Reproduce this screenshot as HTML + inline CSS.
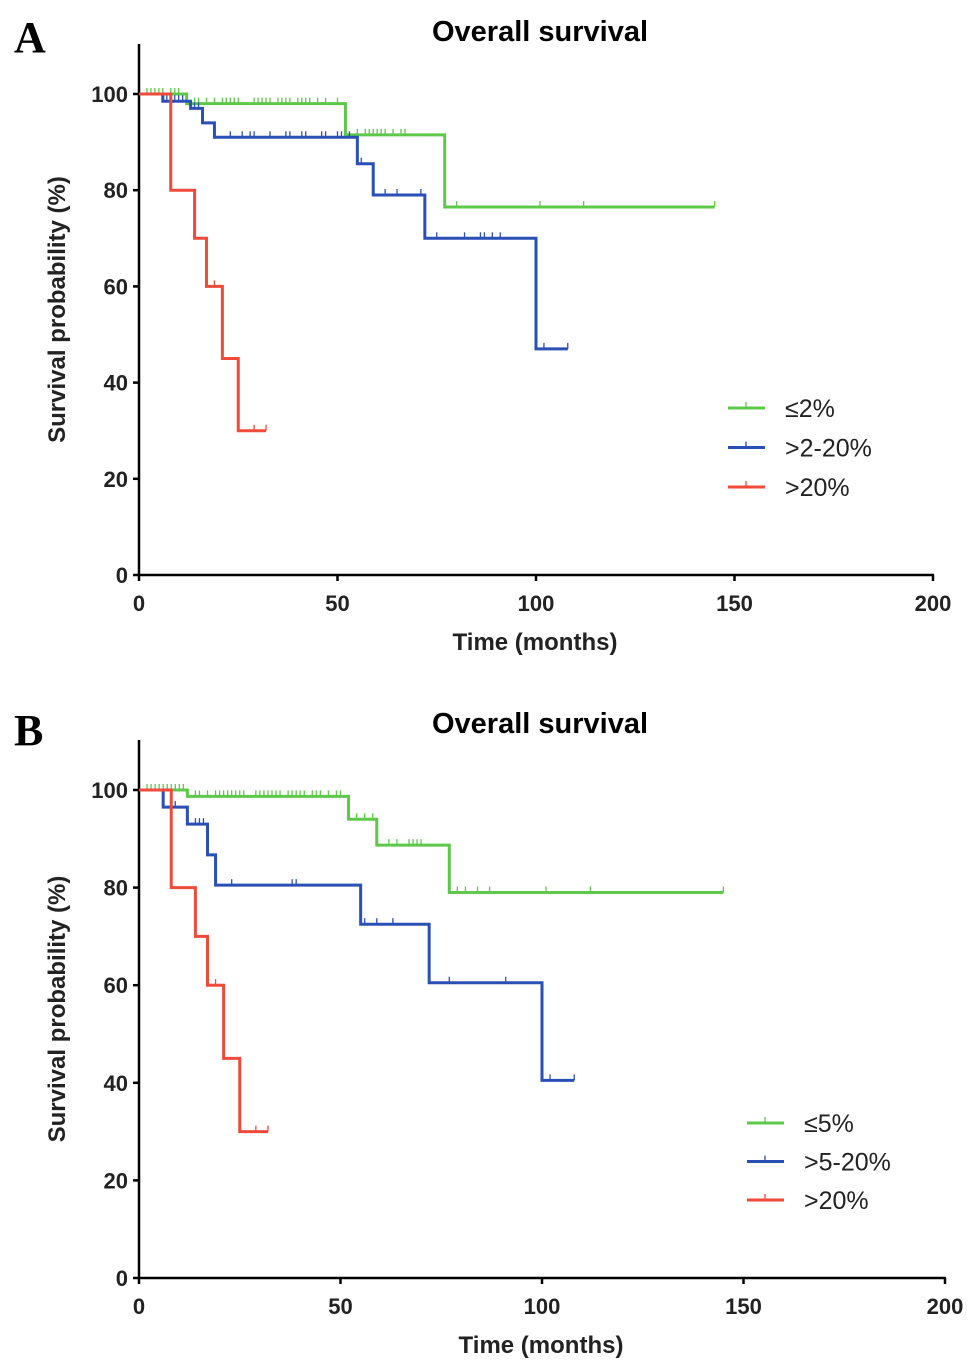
<!DOCTYPE html>
<html><head><meta charset="utf-8"><style>
body{margin:0;background:#fff;}
svg{display:block;font-family:"Liberation Sans",Arial,sans-serif;}
</style></head><body>
<svg id="chart" width="971" height="1371" viewBox="0 0 971 1371"></svg>
<script>
const ticksX=[0,50,100,150,200];
const ticksY=[0,20,40,60,80,100];
// Panel A
const aGreenT=[0,12,52,77,145];
const aGreenS=[100,98,91.5,76.5,76.5];
const aGreenC=[2,3,4,5,6,8,9,10,14,15,17,19,21,22,23,24,25,29,30,31,32,33,35,36,37,38,40,41,42,43,45,47,50,55,57,58,59,60,61,62,64,66,67,80,101,112,145];
const aBlueT=[0,6,13,16,19,55,59,72,100,108];
const aBlueS=[100,98.5,97,94,91,85.5,79,70,47,47];
const aBlueC=[7,8,9,10,11,14,15,16,23,26,28,29,33,37,38,41,42,46,47,50,51,53,56,62,65,71,75,82,86,87,89,91,102,108];
const aRedT=[0,8,14,17,21,25,32];
const aRedS=[100,80,70,60,45,30,30];
const aRedC=[19,29,32];
// Panel B
const bGreenT=[0,12,52,59,77,145];
const bGreenS=[100,98.7,94,88.7,79,79];
const bGreenC=[2,3,4,5,6,7,8,9,10,11,14,15,17,19,20,21,22,23,24,25,26,29,30,31,32,33,34,35,37,38,39,40,41,43,44,45,47,49,50,54,56,58,62,64,67,68,69,70,79,81,84,87,101,112,145];
const bBlueT=[0,6,12,17,19,55,72,100,108];
const bBlueS=[100,96.5,93,86.7,80.5,72.5,60.5,40.5,40.5];
const bBlueC=[8,9,14,15,16,23,38,39,56,59,63,77,91,102,108];
const bRedT=[0,8,14,17,21,25,32];
const bRedS=[100,80,70,60,45,30,30];
const bRedC=[19,29,32];

const NS="http://www.w3.org/2000/svg";
const svg=document.getElementById('chart');
function mk(tag,attrs,parent){const e=document.createElementNS(NS,tag);for(const k in attrs)e.setAttribute(k,attrs[k]);(parent||svg).appendChild(e);return e;}

function panel(cfg){
  const g=mk('g',{});
  
  
  const xs=v=>cfg.x0+(cfg.x1-cfg.x0)*v/200;
  const ys=v=>cfg.y0-(cfg.y0-cfg.y100)*v/100;
  const L=mk('text',{x:14,y:cfg.letterY,'font-family':'Liberation Serif,serif','font-weight':'bold','font-size':44},g);
  L.textContent=cfg.id;
  
  
  const T=mk('text',{x:540,y:cfg.titleY,'text-anchor':'middle','font-weight':'bold','font-size':29},g);
  T.textContent='Overall survival';
  
  
  const ax=mk('line',{x1:cfg.x0,y1:cfg.yTop,x2:cfg.x0,y2:cfg.y0+1,stroke:'#000','stroke-width':2.5},g);
  
  
  const bx=mk('line',{x1:cfg.x0-1,y1:cfg.y0,x2:cfg.x1+1,y2:cfg.y0,stroke:'#000','stroke-width':2.5},g);
  
  
  ticksX.forEach(v=>{
    const t=mk('line',{x1:xs(v),y1:cfg.y0,x2:xs(v),y2:cfg.y0+6,stroke:'#000','stroke-width':2.5},g);
    
    
    const l=mk('text',{x:xs(v),y:cfg.y0+36,'text-anchor':'middle','font-weight':'bold','font-size':22,fill:'#222'},g);
    l.textContent=v;
    
    
  });
  ticksY.forEach(v=>{
    const t=mk('line',{x1:cfg.x0-6,y1:ys(v),x2:cfg.x0,y2:ys(v),stroke:'#000','stroke-width':2.5},g);
    
    
    const l=mk('text',{x:cfg.x0-11,y:ys(v)+8,'text-anchor':'end','font-weight':'bold','font-size':22,fill:'#222'},g);
    l.textContent=v;
    
    
  });
  const yl=mk('text',{x:0,y:0,transform:`translate(65,${(cfg.y0+cfg.y100)/2-25}) rotate(-90)`,'text-anchor':'middle','font-weight':'bold','font-size':24,fill:'#222'},g);
  yl.textContent='Survival probability  (%)';
  
  
  const xl=mk('text',{x:cfg.xTitleX,y:cfg.y0+75,'text-anchor':'middle','font-weight':'bold','font-size':24,fill:'#222'},g);
  xl.textContent='Time (months)';
  
  
  cfg.series.forEach((s,i)=>{
    let d=`M${xs(s.t[0])},${ys(s.s[0])}`;
    for(let k=1;k<s.t.length;k++){d+=`H${xs(s.t[k])}V${ys(s.s[k])}`;}
    const p=mk('path',{d:d,fill:'none',stroke:s.color,'stroke-width':3},g);
    
    
    s.c.forEach(ct=>{
      let k=0;while(k+1<s.t.length&&s.t[k+1]<=ct&&k+1<s.t.length-1)k++;
      const sv=s.s[k];
      const m=mk('line',{x1:xs(ct),y1:ys(sv),x2:xs(ct),y2:ys(sv)-6,stroke:s.color,'stroke-width':1.3},g);
      
      
    });
    const ly=cfg.legY+i*cfg.legDy;
    const ll=mk('line',{x1:cfg.legX,y1:ly,x2:cfg.legX+37,y2:ly,stroke:s.color,'stroke-width':3},g);
    
    
    const lm=mk('line',{x1:cfg.legX+18,y1:ly,x2:cfg.legX+18,y2:ly-6,stroke:s.color,'stroke-width':1.3},g);
    
    
    const lt=mk('text',{x:cfg.legX+57,y:ly+9,'font-size':25,fill:'#222'},g);
    lt.textContent=s.label;
    
    
  });
}
panel({id:'A',x0:139,x1:933,y0:575,y100:94,yTop:44,letterY:52,titleY:41,xTitleX:535,legX:728,legY:408,legDy:39.5,
  series:[{key:'low',label:'≤2%',color:'#5dc84a',t:aGreenT,s:aGreenS,c:aGreenC},
          {key:'mid',label:'>2-20%',color:'#2a4fb5',t:aBlueT,s:aBlueS,c:aBlueC},
          {key:'high',label:'>20%',color:'#f04a3a',t:aRedT,s:aRedS,c:aRedC}]});
panel({id:'B',x0:139,x1:945,y0:1278,y100:790,yTop:740,letterY:745,titleY:733,xTitleX:541,legX:747,legY:1123,legDy:38.5,
  series:[{key:'low',label:'≤5%',color:'#5dc84a',t:bGreenT,s:bGreenS,c:bGreenC},
          {key:'mid',label:'>5-20%',color:'#2a4fb5',t:bBlueT,s:bBlueS,c:bBlueC},
          {key:'high',label:'>20%',color:'#f04a3a',t:bRedT,s:bRedS,c:bRedC}]});
</script>
</body></html>
